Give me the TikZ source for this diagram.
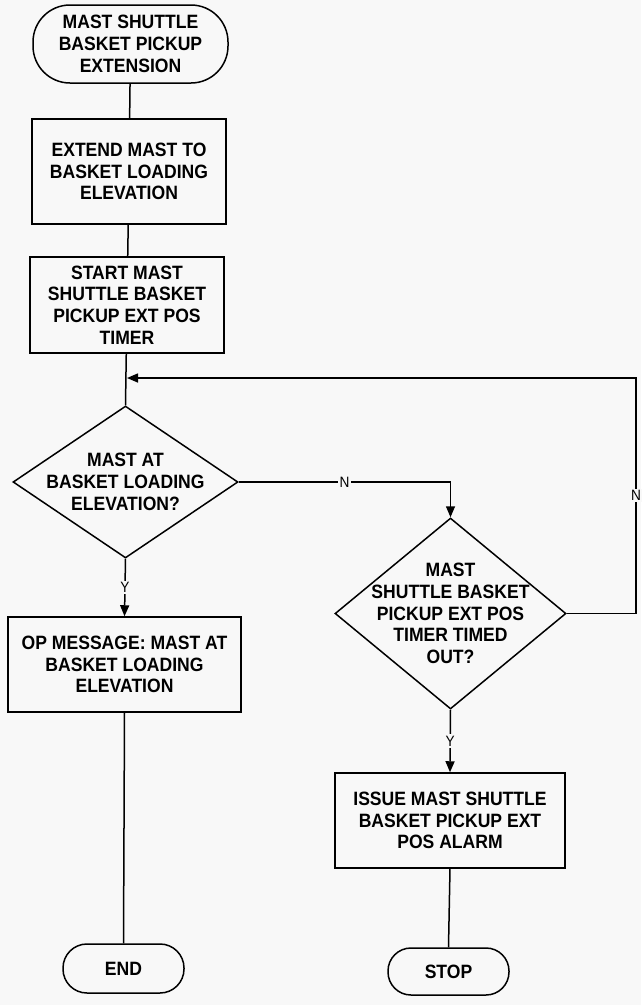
\documentclass[tikz,border=0pt]{standalone}
\usepackage{fontspec}
\setmainfont{Liberation Sans}
\newfontfamily\boxfont{Liberation Sans}[FakeStretch=0.91]
\usetikzlibrary{shapes.geometric,arrows.meta}
\definecolor{paper}{RGB}{248,248,248}
\begin{document}
\begin{tikzpicture}[x=1pt,y=-1pt,
  txt/.style={font=\boxfont\bfseries\fontsize{19.3}{21.7}\selectfont, align=center},
  base/.style={txt, draw, line width=1.5pt, inner sep=0pt},
  procbox/.style={base, rectangle},
  term/.style={base, rectangle, rounded corners=#1},
  decision/.style={draw, diamond, line width=1.5pt, inner sep=0pt},
  flow/.style={line width=1.5pt},
  arr/.style={flow, -{Triangle[length=11pt,width=9pt]}},
  yn/.style={font=\boxfont\fontsize{15}{15}\selectfont, fill=paper, inner sep=1.5pt}]

% page
\fill[paper] (0,0) rectangle (641,1005);
\useasboundingbox (0,0) rectangle (641,1005);

% left column
\node[term=37pt, minimum width=195pt, minimum height=78pt] (start) at (130.5,44)
  {MAST SHUTTLE\\BASKET PICKUP\\EXTENSION};
\node[procbox, minimum width=194pt, minimum height=105pt] (extend) at (129,171.5)
  {EXTEND MAST TO\\BASKET LOADING\\ELEVATION};
\node[procbox, minimum width=194pt, minimum height=96pt] (timer) at (127,305)
  {START MAST\\SHUTTLE BASKET\\PICKUP EXT POS\\TIMER};
\node[decision, minimum width=225pt, minimum height=152pt] (atelev) at (125.5,482) {};
\node[txt] (atelevtext) at (atelev) {MAST AT\\BASKET LOADING\\ELEVATION?};
\node[procbox, minimum width=233pt, minimum height=95pt] (opmsg) at (124.5,664.5)
  {OP MESSAGE: MAST AT\\BASKET LOADING\\ELEVATION};
\node[term=24pt, minimum width=121pt, minimum height=49pt] (end) at (123.5,968.5) {END};

% right column
\node[decision, minimum width=231pt, minimum height=191pt] (timeout) at (450.5,613.5) {};
\node[txt] (timeouttext) at (timeout) {MAST\\SHUTTLE BASKET\\PICKUP EXT POS\\TIMER TIMED\\OUT?};
\node[procbox, minimum width=230pt, minimum height=95pt] (alarm) at (450,820.5)
  {ISSUE MAST SHUTTLE\\BASKET PICKUP EXT\\POS ALARM};
\node[term=23pt, minimum width=121pt, minimum height=47pt] (stop) at (448.5,971.5) {STOP};

% loop-back points
\coordinate (loopin) at (127,378);
\coordinate (loopcorner) at (636,378);

% connectors
\draw[flow] (start) -- (extend);
\draw[flow] (extend) -- (timer);
\draw[flow] (timer) -- (atelev.north);
\draw[arr] (atelev.south) -- node[yn] (y1) {Y} (opmsg.north);
\draw[flow] (opmsg.south) -- (end.north);
\draw[arr] (atelev.east) -- node[yn, pos=0.5] (n1) {N} (atelev.east -| timeout.north) -- (timeout.north);
\draw[arr] (timeout.south) -- node[yn] (y2) {Y} (alarm.north);
\draw[flow] (alarm.south) -- (stop.north);
\draw[arr] (timeout.east) -- (timeout.east -| loopcorner)
  -- node[yn] (n2) {N} (loopcorner) -- (loopin);
\end{tikzpicture}
\end{document}
